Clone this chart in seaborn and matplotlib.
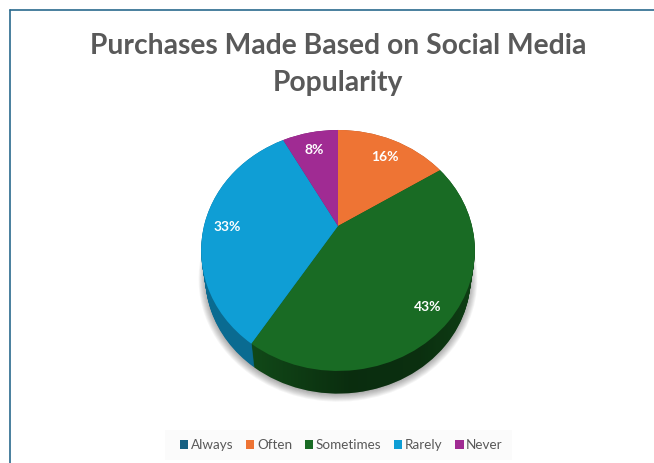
import numpy as np
import matplotlib
matplotlib.use("Agg")
import matplotlib.pyplot as plt
from matplotlib.lines import Line2D
from matplotlib.patches import Patch, Rectangle, PathPatch
from matplotlib.path import Path
from matplotlib.transforms import Affine2D, Transform
import seaborn as sns

TITLE = "Purchases Made Based on Social Media\nPopularity"
categories = ["Always", "Often", "Sometimes", "Rarely", "Never"]
shares = [0, 16, 43, 33, 8]
hex_colors = ["#156082", "#EE7434", "#196B24", "#0F9ED5", "#A02B93"]

W, H = 654, 463
APEX = (338.0, 226.0)
SCALE_X, SCALE_Y, TILT = 134.0, 115.5, 0.203
DEPTH = 27.0
LAYERS = 26


class TiltedDisc(Transform):
    """Projects the unit pie onto a tilted disc, in pixel-like axes units."""
    input_dims = output_dims = 2
    is_affine = False
    has_inverse = False

    def __init__(self, level=0.0, grow=0.0):
        super().__init__()
        self.level = level
        self.grow = grow

    def transform_non_affine(self, values):
        v = np.asarray(values, dtype=float)
        w = 1 + TILT * v[:, 1]
        shrink = 1 - 0.03 * self.level + self.grow
        x = APEX[0] + shrink * SCALE_X * v[:, 0] / w
        y = APEX[1] + DEPTH * self.level - shrink * SCALE_Y * v[:, 1] / w
        return np.column_stack([x, y])


sns.set_theme(style="white")
plt.rcParams["font.family"] = ["Lato", "DejaVu Sans"]
palette = sns.color_palette(hex_colors)
side_palette = [tuple(np.array(c) * f) for c, f in zip(palette, [0.7, 0.7, 0.68, 0.68, 0.7])]

fig = plt.figure(figsize=(W / 100, H / 100), dpi=100, facecolor="white")
ax = fig.add_axes([0, 0, 1, 1])


def draw_disc(colors, level, zorder, grow=0.0, alpha=None):
    wedges, *_ = ax.pie(shares, colors=colors, startangle=90, counterclock=False, radius=1)
    tr = TiltedDisc(level, grow) + ax.transData
    for wedge in wedges:
        wedge.set_transform(tr)
        wedge.set_zorder(zorder)
        wedge.set_linewidth(0)
        wedge.set_edgecolor("none")
        if alpha is not None:
            wedge.set_alpha(alpha)


# soft shadow underneath the disc
for g in np.linspace(0.05, 0.0, 9):
    draw_disc(["#000000"] * len(shares), 1.04, 1, grow=g, alpha=0.04)

# side wall, stacked from the bottom rim upwards
for i, lev in enumerate(np.linspace(1, 0, LAYERS)):
    draw_disc(side_palette, lev, 2 + i * 0.01)

# darker band across the lower part of the wall
rim_angles = np.linspace(0, 2 * np.pi, 200)
rim = Path(np.column_stack([np.cos(rim_angles), np.sin(rim_angles)]))
clip = PathPatch(rim, transform=TiltedDisc(1.0) + ax.transData, facecolor="none", edgecolor="none")
ax.add_patch(clip)
band = np.interp(np.linspace(200, 476, 120), [200, 250, 350, 420, 476], [0.0, 0.0, 0.38, 0.35, 0.15])
shade = np.zeros((1, band.size, 4))
shade[..., 3] = band
img = ax.imshow(shade, extent=(200, 476, 400, 280), aspect="auto", zorder=3, interpolation="bilinear")
img.set_clip_path(clip)

# top face with value labels
wedges, _, pct_texts = ax.pie(
    shares, colors=palette, startangle=90, counterclock=False, radius=1,
    autopct=lambda p: f"{p:.0f}%" if p > 0 else "", pctdistance=0.83,
    textprops={"color": "white", "fontsize": 10, "fontweight": "bold"},
)
top = TiltedDisc() + ax.transData
label_tr = TiltedDisc() + Affine2D().translate(0, 4) + ax.transData
for wedge in wedges:
    wedge.set_transform(top)
    wedge.set_zorder(4)
    wedge.set_linewidth(0)
for t in pct_texts:
    t.set_transform(label_tr)
    t.set_zorder(5)

ax.set_aspect("auto")
ax.set_xlim(0, W)
ax.set_ylim(H, 0)
ax.axis("off")

# chart frame, open towards the right and bottom
frame_color = "#2A6A8E"
fig.add_artist(Line2D([10 / W, 1], [1 - 10 / H] * 2, color=frame_color, lw=1.2))
fig.add_artist(Line2D([10 / W] * 2, [0, 1 - 10 / H], color=frame_color, lw=1.2))

ax.text(338, 64.5, TITLE, ha="center", va="center", fontsize=20.3, fontweight="bold",
        color="#595959", linespacing=1.54)

handles = [Patch(facecolor=c, edgecolor="none", label=n) for c, n in zip(palette, categories)]
fig.add_artist(Rectangle((165 / W, 1 - 460 / H), 347 / W, 30 / H, transform=fig.transFigure,
                         facecolor="#FBFBFB", edgecolor="none", zorder=-1))
leg = ax.legend(handles=handles, ncol=5, loc="center", bbox_to_anchor=(341.5 / W, 1 - 445 / H),
                bbox_transform=fig.transFigure, frameon=False, fontsize=9.7,
                handlelength=0.6, handleheight=0.6, handletextpad=0.2, columnspacing=0.95,
                labelcolor="#595959")
leg.set_zorder(6)

fig.savefig("out.png", dpi=100)
